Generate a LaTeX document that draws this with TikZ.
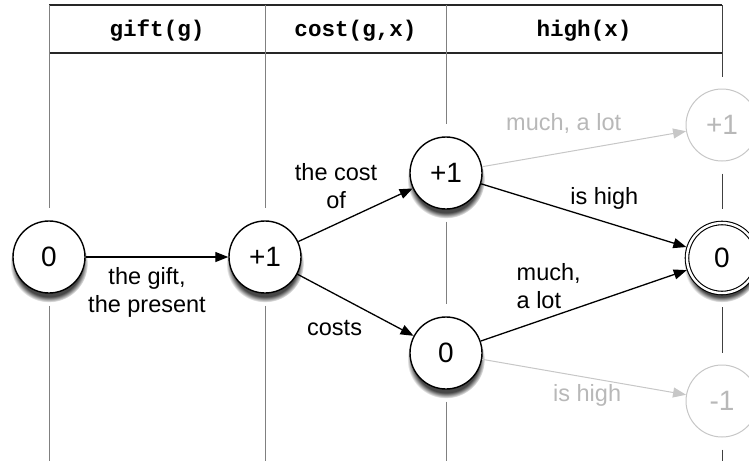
\documentclass[tikz,border=0pt]{standalone}
\usepackage{fontspec}
\setmainfont{Liberation Sans}
\setmonofont{Liberation Mono}
\usetikzlibrary{arrows.meta,positioning,shadows}

\begin{document}
\begin{tikzpicture}[x=1pt, y=-1pt,
  state/.style={circle, draw, line width=1.4pt, fill=white, minimum size=72pt, inner sep=0pt, font=\fontsize{28}{30}\selectfont,
    circular drop shadow={shadow xshift=0pt, shadow yshift=-6pt, shadow scale=1.08, opacity=0.9, fill=black!80}},
  accept/.style={state, double, double distance=2.4pt, line width=1.1pt, minimum size=70pt, outer sep=2.3pt},
  ghost/.style={circle, draw=black!22, text=black!28, line width=1pt, fill=white, minimum size=72pt, inner sep=0pt, font=\fontsize{28}{30}\selectfont},
  head/.style={font=\ttfamily\bfseries\fontsize{22.6}{26}\selectfont},
  lbl/.style={inner sep=0pt, font=\fontsize{23.5}{28}\selectfont},
  glbl/.style={lbl, text=black!28},
  arrow/.style={-{Triangle[length=13pt, width=10pt]}, line width=1.3pt},
  faint/.style={-{Triangle[length=13pt, width=10pt]}, line width=1pt, draw=black!22},
  rule/.style={draw=black!50, line width=1pt},
  frame/.style={draw=black!85, line width=1.6pt}
]
\useasboundingbox (0,0) rectangle (749,461);

% header of the table
\draw[frame] (49,5) -- (722,5);
\draw[frame] (49,53) -- (722,53);
\node[head] (hgift) at (157,31) {gift(g)};
\node[head] (hcost) at (355.5,31) {cost(g,x)};
\node[head] (hhigh) at (584,31) {high(x)};

% states
\node[state] (start) at (49,257) {0};
\node[state] (gift) at (265,257) {+1};
\node[state] (costof) at (446,173) {+1};
\node[state] (costs) at (446,353) {0};
\node[accept] (high) at (722,258) {0};
\node[ghost] (more) at (722,125) {+1};
\node[ghost] (less) at (722,401) {-1};

% column rules, broken around the states
\draw[rule, shorten >=12pt] (49,5) -- (start);
\draw[rule, shorten <=12pt] (start) -- (49,461);
\draw[rule, shorten >=12pt] (265,5) -- (gift);
\draw[rule, shorten <=12pt] (gift) -- (265,461);
\draw[rule, shorten >=12pt] (446,5) -- (costof);
\draw[rule, shorten <=12pt, shorten >=12pt] (costof) -- (costs);
\draw[rule, shorten <=12pt] (costs) -- (446,461);
\draw[rule, draw=black!75, shorten >=12pt] (722,5) -- (more);
\draw[rule, draw=black!75, shorten <=12pt, shorten >=12pt] (more) -- (high);
\draw[rule, draw=black!75, shorten <=12pt, shorten >=12pt] (high) -- (less);
\draw[rule, draw=black!75, shorten <=12pt] (less) -- (722,461);

% transitions
\draw[arrow] (start) -- node[lbl, pos=0.43, below=10pt, align=center] {the gift,\\the present} (gift);
\draw[arrow] (gift) -- node[lbl, pos=0.33, above=15pt, align=center] {the cost\\of} (costof);
\draw[arrow] (gift) -- node[lbl, pos=0.32, below=26pt] {costs} (costs);
\draw[arrow] (costof) -- node[lbl, pos=0.6, above=12pt] {is high} (high);
\draw[arrow] (costs) -- node[lbl, pos=0.33, above=8pt, align=left] {much,\\a lot} (high);
\draw[faint] (costof) -- node[glbl, pos=0.4, above=19pt] {much, a lot} (more);
\draw[faint] (costs) -- node[glbl, pos=0.515, below=6pt] {is high} (less);
\end{tikzpicture}
\end{document}
